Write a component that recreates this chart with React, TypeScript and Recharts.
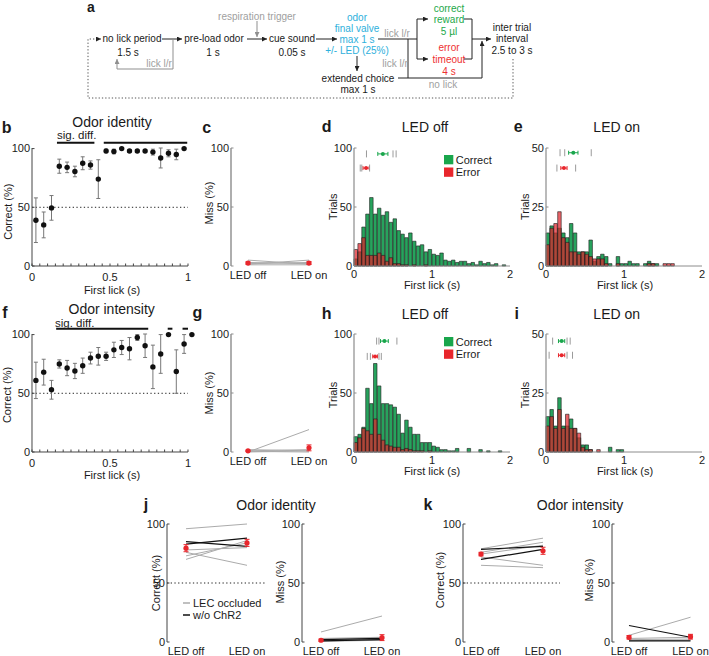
import React from 'react';
import { ComposedChart, Line, Bar, Scatter, XAxis, YAxis, ErrorBar, ReferenceLine } from 'recharts';

const FONT = '"Liberation Sans", Arial, Helvetica, sans-serif';
const TXT = '#1a1a1a';
const AX_DARK = '#444';
const AX_GRAY = '#8c8c8c';
const GREEN_BAR = '#27a35d';
const RED_BAR = '#e0262c';
const GREEN_KEY = '#19a64c';
const RED_KEY = '#e8262c';
const GRAY_LINE = '#ababab';
const CYAN = '#2eb0dc';
const GREEN_T = '#22a84a';
const RED_T = '#ee3030';
const GRAY_T = '#a0a0a0';

// ---------- b / f : correct vs first lick ----------
const lickBinsB = [0.025, 0.075, 0.125, 0.175, 0.225, 0.275, 0.325, 0.375, 0.425, 0.475, 0.525, 0.575, 0.625, 0.675, 0.725, 0.775, 0.825, 0.875, 0.925, 0.975];
const identityCorrect = [39, 35, 49.5, 85, 84, 80.5, 87.5, 86, 74, 98, 97.5, 100, 98, 98, 98, 97, 92, 96, 95, 100];
const identityErr = [19, 11, 10.5, 6, 4.5, 4.5, 5.5, 3.5, 16.5, 1.5, 2, 0, 1, 1, 1.2, 2.5, 8.5, 3, 4.5, 0];
const identitySig = [[0.16, 0.4], [0.46, 0.995]];

const lickBinsF = [0.025, 0.075, 0.125, 0.175, 0.225, 0.275, 0.325, 0.375, 0.425, 0.475, 0.525, 0.575, 0.625, 0.675, 0.725, 0.775, 0.825, 0.875, 0.925, 0.975, 1.025];
const intensityCorrect = [61, 68, 53, 75, 71.5, 69, 73.5, 80, 81.5, 81.5, 87, 89, 88, 97.5, 90.5, 72.5, 83.5, 100, 68.5, 92, 100];
const intensityErr = [15.5, 11, 8, 3.5, 6.5, 6.5, 6.5, 5, 7.5, 3.5, 6.5, 6, 9.5, 2.5, 10, 18.5, 16.5, 0, 18.5, 8, 0];
const intensitySig = [[0.155, 0.745], [0.87, 0.9], [0.965, 1.0]];
const SIG_LEVEL = 105;
const lickTicks = [0, 0.05, 0.1, 0.15, 0.2, 0.25, 0.3, 0.35, 0.4, 0.45, 0.5, 0.55, 0.6, 0.65, 0.7, 0.75, 0.8, 0.85, 0.9, 0.95, 1];
const lickMajor = [0, 0.5, 1];

// ---------- histograms ----------
const histBins = [0.025, 0.075, 0.125, 0.175, 0.225, 0.275, 0.325, 0.375, 0.425, 0.475, 0.525, 0.575, 0.625, 0.675, 0.725, 0.775, 0.825, 0.875, 0.925, 0.975, 1.025, 1.075, 1.125, 1.175, 1.225, 1.275, 1.325, 1.375, 1.425, 1.475, 1.525, 1.575, 1.625, 1.675, 1.725, 1.775, 1.825, 1.875, 1.925, 1.975];

const dCorrect = [6, 12, 33, 44, 58, 44, 49, 43, 46, 37, 40, 30, 27, 24, 28, 21, 17, 18, 12, 14, 10, 9, 11, 5, 4, 5, 3, 4, 4, 2, 3, 1, 4, 2, 3, 1, 2, 0, 1, 0];
const dError = [14, 19, 24, 9, 9, 9, 11, 9, 4, 7, 2, 2, 1, 1, 0, 1, 0, 0, 1, 0, 0, 0, 0, 0, 0, 0, 0, 0, 0, 0, 0, 0, 0, 0, 0, 0, 0, 0, 0, 0];
const dCorrectTicks = [0.16, 0.5, 0.54];
const dErrorTicks = [0.08, 0.1, 0.2];
const dMedians = [0.37, 0.155];
const dSpreads = [0.065, 0.04];
const dRows = [95, 83];

const eCorrect = [14, 17, 14, 16, 14, 12, 18, 14, 6, 6, 6, 11, 2, 4, 5, 4, 1, 0, 4, 1, 1, 2, 1, 1, 0, 1, 2, 1, 1, 0, 0, 0, 0, 0, 0, 0, 0, 0, 0, 0];
const eError = [9, 16, 18, 23, 12, 10, 6, 6, 5, 6, 5, 4, 3, 3, 3, 1, 0, 0, 1, 0, 0, 0, 0, 0, 0, 0, 1, 1, 0, 0, 1, 1, 1, 0, 0, 0, 0, 0, 0, 0];
const eCorrectTicks = [0.18, 0.24, 0.58];
const eErrorTicks = [0.14, 0.38];
const eMedians = [0.35, 0.23];
const eSpreads = [0.06, 0.04];
const eRows = [48, 41.5];

const hCorrect = [13, 15, 21, 54, 41, 75, 56, 41, 41, 40, 38, 32, 16, 27, 21, 15, 15, 8, 8, 8, 5, 4, 2, 2, 1, 1, 3, 0, 0, 3, 0, 0, 2, 0, 1, 0, 0, 1, 0, 0];
const hError = [8, 12, 20, 18, 15, 28, 15, 10, 6, 5, 4, 4, 2, 3, 2, 1, 1, 1, 0, 1, 0, 0, 0, 0, 0, 0, 0, 0, 0, 0, 0, 0, 0, 0, 0, 0, 0, 0, 0, 0];
const hCorrectTicks = [0.29, 0.32, 0.55];
const hErrorTicks = [0.17, 0.21, 0.32, 0.35];
const hMedians = [0.39, 0.27];
const hSpreads = [0.05, 0.03];
const hRows = [94, 81];

const iCorrect = [15, 18, 11, 23, 11, 11, 14, 10, 6, 3, 3, 1, 0, 0, 0, 0, 2, 0, 1, 1, 0, 0, 0, 0, 0, 0, 0, 0, 0, 0, 0, 0, 0, 0, 0, 0, 0, 0, 0, 0];
const iError = [11, 15, 10, 18, 10, 16, 10, 10, 8, 2, 1, 1, 0, 1, 0, 0, 0, 0, 0, 0, 0, 0, 0, 0, 0, 0, 0, 0, 0, 0, 0, 0, 0, 0, 0, 0, 0, 0, 0, 0];
const iCorrectTicks = [0.085, 0.27, 0.31];
const iErrorTicks = [0.04, 0.27, 0.34];
const iMedians = [0.2, 0.2];
const iSpreads = [0.04, 0.04];
const iRows = [47, 41];

// ---------- paired LED off / on ----------
const ledLabels = ['LED off', 'LED on'];
const cMissGray = [[5, 1.5], [1.5, 5], [2, 3], [3, 2], [1, 1]];
const cMissMean = [2.5, 2.5];
const cMissErr = [1, 1.2];
const gMissGray = [[0, 19], [1, 2], [0, 1], [2, 1], [0.5, 0]];
const gMissMean = [1, 3.5];
const gMissErr = [0.5, 2.5];
const jCorrectGray = [[96, 100], [70, 86], [76, 65], [73, 84], [78, 80]];
const jCorrectBlack = [[85, 81], [83, 88]];
const jCorrectMean = [79.5, 84];
const jCorrectErr = [3, 3];
const jMissGray = [[8.5, 22], [2, 3], [1, 2], [3, 4], [0.5, 1.5]];
const jMissBlack = [[1, 2], [2, 3]];
const jMissMean = [1.5, 3.7];
const jMissErr = [1, 2.5];
const kCorrectGray = [[79, 88], [76, 84.5], [74.5, 82], [72, 65], [65, 63]];
const kCorrectBlack = [[78.5, 81], [70, 78.5]];
const kCorrectMean = [74.5, 77.3];
const kCorrectErr = [1.5, 3];
const kMissGray = [[5.7, 21], [2, 2.5], [1, 1.5], [3, 4]];
const kMissBlack = [[14, 4], [1, 1]];
const kMissMean = [4, 4.5];
const kMissErr = [1.5, 2];

// ---------- layout helpers ----------
const ML = 40, MT = 28, MR = 14, MB = 26, XH = 20;
const UNIT = 156;
function frame(x0: number, y0: number, x1: number, y1: number) {
  return {
    left: x0 - ML, top: y0 - MT,
    width: x1 - x0 + ML + MR, height: y1 - y0 + MT + MB,
    margin: { top: MT, right: MR, bottom: MB - XH, left: 0 },
  };
}
const pos = (f: any): React.CSSProperties => ({ position: 'absolute', left: f.left, top: f.top });

const yTick = (m: number, color: string) => (p: any) => (
  <g>
    <line x1={p.x + m} x2={p.x + m + 2.5} y1={p.y} y2={p.y} stroke={color} strokeWidth={1} />
    <text x={p.x} y={p.y} dy="0.35em" textAnchor="end" fontSize={11} fill={TXT} fontFamily={FONT}>{p.payload.value}</text>
  </g>
);
const xMinorTick = (m: number) => (p: any) => {
  const v = p.payload.value;
  const major = lickMajor.indexOf(v) >= 0;
  return (
    <g>
      <line x1={p.x} x2={p.x} y1={p.y - m} y2={p.y - m - 2.5} stroke={AX_DARK} strokeWidth={1} />
      {major ? <text x={p.x} y={p.y} dy="0.71em" textAnchor="middle" fontSize={11} fill={TXT} fontFamily={FONT}>{String(v)}</text> : null}
    </g>
  );
};
const dotShape = (color: string, r: number) => (p: any) => <circle cx={p.cx} cy={p.cy} r={r} fill={color} />;
const vTick = (p: any) => <line x1={p.cx} x2={p.cx} y1={p.cy - 3.5} y2={p.cy + 3.5} stroke="#9a9a9a" strokeWidth={1} />;

function DotPanel({ x0, y0, y1, xMax, xs, means, errs, sig }: any) {
  const x1 = x0 + UNIT * xMax;
  const f = frame(x0, y0, x1, y1);
  const rows = xs.map((x: number, i: number) => ({ x, mean: means[i], err: errs[i] }));
  return (
    <div style={pos(f)}>
      <ComposedChart width={f.width} height={f.height} data={rows} margin={f.margin}>
        <XAxis dataKey="x" type="number" domain={[0, xMax]} ticks={lickTicks} interval={0} tickSize={0} tickMargin={7}
          axisLine={false} tickLine={false} tick={xMinorTick(7)} height={XH} />
        <YAxis type="number" domain={[0, 100]} ticks={[0, 50, 100]} width={ML} tickSize={0} tickMargin={2}
          axisLine={{ stroke: AX_DARK }} tickLine={false} tick={yTick(2, AX_DARK)} />
        <ReferenceLine segment={[{ x: 0, y: 0 }, { x: 1, y: 0 }]} stroke={AX_DARK} ifOverflow="visible" />
        <ReferenceLine segment={[{ x: 0, y: 50 }, { x: 1, y: 50 }]} stroke="#222" strokeDasharray="1.3 2.4" ifOverflow="visible" />
        {sig.map((s: number[], k: number) => (
          <ReferenceLine key={k} segment={[{ x: s[0], y: SIG_LEVEL }, { x: s[1], y: SIG_LEVEL }]} stroke="#111" strokeWidth={2} ifOverflow="visible" />
        ))}
        <Scatter dataKey="mean" shape={dotShape('#111', 2.7)} isAnimationActive={false}>
          <ErrorBar dataKey="err" direction="y" width={2} stroke="#777" strokeWidth={1} isAnimationActive={false} />
        </Scatter>
      </ComposedChart>
    </div>
  );
}

function PairPanel({ x0, x1, y0, y1, padL, padR, gray, black, mean, err, dotted, axisColor, axisWidth }: any) {
  const f = frame(x0, y0, x1, y1);
  const rows = [0, 1].map((i) => {
    const r: any = { x: i, mean: mean[i], err: err[i] };
    gray.forEach((g: number[], k: number) => { r['g' + k] = g[i]; });
    black.forEach((b: number[], k: number) => { r['b' + k] = b[i]; });
    return r;
  });
  return (
    <div style={pos(f)}>
      <ComposedChart width={f.width} height={f.height} data={rows} margin={f.margin}>
        <XAxis dataKey="x" type="number" domain={[0, 1]} ticks={[0, 1]} interval={0} padding={{ left: padL, right: padR }}
          tickFormatter={(v: number) => ledLabels[v]} axisLine={false} tickLine={false} tickSize={0} tickMargin={5}
          tick={{ fontSize: 11, fill: TXT, fontFamily: FONT }} height={XH} />
        <YAxis type="number" domain={[0, 100]} ticks={[0, 50, 100]} width={ML} tickSize={0} tickMargin={2}
          axisLine={{ stroke: axisColor, strokeWidth: axisWidth }} tickLine={false} tick={yTick(2, axisColor)} />
        {dotted ? <ReferenceLine y={50} stroke="#222" strokeDasharray="1.3 2.4" /> : null}
        {gray.map((_: any, k: number) => (
          <Line key={'g' + k} dataKey={'g' + k} stroke={GRAY_LINE} strokeWidth={1} dot={false} isAnimationActive={false} />
        ))}
        {black.map((_: any, k: number) => (
          <Line key={'b' + k} dataKey={'b' + k} stroke="#111" strokeWidth={1.2} dot={false} isAnimationActive={false} />
        ))}
        <Scatter dataKey="mean" shape={dotShape(RED_KEY, 2.6)} isAnimationActive={false}>
          <ErrorBar dataKey="err" direction="y" width={2.5} stroke={RED_KEY} strokeWidth={1} isAnimationActive={false} />
        </Scatter>
      </ComposedChart>
    </div>
  );
}

function Hist({ x0, y0, y1, yMax, yTicks, correct, error, cTicks, eTicks, medians, spreads, rowsY }: any) {
  const x1 = x0 + UNIT;
  const f = frame(x0, y0, x1, y1);
  const data = histBins.map((b, i) => ({ bin: b, correct: correct[i], error: error[i] }));
  const tickPts = [
    ...cTicks.map((x: number) => ({ x, y: rowsY[0] })),
    ...eTicks.map((x: number) => ({ x, y: rowsY[1] })),
  ];
  const cMed = [{ x: medians[0], y: rowsY[0], err: spreads[0] }];
  const eMed = [{ x: medians[1], y: rowsY[1], err: spreads[1] }];
  const bw = UNIT / 40;
  return (
    <div style={pos(f)}>
      <ComposedChart width={f.width} height={f.height} data={data} margin={f.margin}>
        <XAxis xAxisId="g" dataKey="bin" type="number" domain={[0, 2]} ticks={[0, 1, 2]} interval={0} tickSize={0} tickMargin={4}
          axisLine={{ stroke: AX_GRAY }} tickLine={false} tick={{ fontSize: 11, fill: TXT, fontFamily: FONT }} height={XH} />
        <XAxis xAxisId="r" dataKey="bin" type="number" domain={[0, 2]} hide />
        <XAxis xAxisId="m" dataKey="x" type="number" domain={[0, 2]} hide />
        <YAxis type="number" domain={[0, yMax]} ticks={yTicks} width={ML} tickSize={0} tickMargin={2}
          axisLine={{ stroke: AX_GRAY, strokeWidth: 1.2 }} tickLine={false} tick={yTick(2, AX_GRAY)} />
        <Bar xAxisId="g" dataKey="correct" fill={GREEN_BAR} stroke="#1b1b1b" strokeWidth={0.6} barSize={bw} isAnimationActive={false} />
        <Bar xAxisId="r" dataKey="error" fill={RED_BAR} fillOpacity={0.72} stroke="#1b1b1b" strokeWidth={0.6} barSize={bw} isAnimationActive={false} />
        <Scatter xAxisId="m" data={tickPts} dataKey="y" shape={vTick} isAnimationActive={false} />
        <Scatter xAxisId="m" data={cMed} dataKey="y" shape={dotShape(GREEN_KEY, 2)} isAnimationActive={false}>
          <ErrorBar dataKey="err" direction="x" width={2} stroke={GREEN_KEY} strokeWidth={1} isAnimationActive={false} />
        </Scatter>
        <Scatter xAxisId="m" data={eMed} dataKey="y" shape={dotShape(RED_KEY, 2)} isAnimationActive={false}>
          <ErrorBar dataKey="err" direction="x" width={2} stroke={RED_KEY} strokeWidth={1} isAnimationActive={false} />
        </Scatter>
      </ComposedChart>
    </div>
  );
}

// ---------- overlay text / diagram ----------
function T({ x, y, s, size = 11, color = TXT, anchor = 'middle', weight = 400, rot = false }: any) {
  return (
    <text x={x} y={y} dy={rot ? '0.35em' : undefined} textAnchor={anchor} fontSize={size} fill={color} fontWeight={weight}
      fontFamily={FONT} transform={rot ? `rotate(-90 ${x} ${y})` : undefined}>{s}</text>
  );
}
function D({ x, y, s, color = TXT }: any) {
  return <text x={x} y={y} dy="0.35em" textAnchor="middle" fontSize={10} fill={color} fontFamily={FONT}>{s}</text>;
}

function Overlay() {
  const blk = '#222';
  const gr = '#8f8f8f';
  return (
    <svg width={709} height={656} style={{ position: 'absolute', left: 0, top: 0, pointerEvents: 'none' }}>
      <defs>
        <marker id="ah" viewBox="0 0 6 6" refX="6" refY="3" markerWidth="5" markerHeight="5" orient="auto">
          <path d="M0,0 L6,3 L0,6 z" fill={blk} />
        </marker>
        <marker id="ahg" viewBox="0 0 6 6" refX="6" refY="3" markerWidth="5" markerHeight="5" orient="auto">
          <path d="M0,0 L6,3 L0,6 z" fill={gr} />
        </marker>
      </defs>
      {/* panel a */}
      <T x={91} y={12} s="a" size={14} weight={700} />
      <path d="M513,59 L513,98 L88,98 L88,39 L101,39" fill="none" stroke="#555" strokeDasharray="1.3 2" markerEnd="url(#ah)" />
      <D x={132} y={38} s="no lick period" />
      <D x={128} y={52} s="1.5 s" />
      <line x1={162} y1={39} x2={182} y2={39} stroke={blk} markerEnd="url(#ah)" />
      <path d="M173,39 L173,69 L117,69 L117,59" fill="none" stroke={gr} markerEnd="url(#ahg)" />
      <D x={159} y={63} s="lick l/r" color={GRAY_T} />
      <D x={214} y={38} s="pre-load odor" />
      <D x={213} y={52} s="1 s" />
      <line x1={247} y1={39} x2={267} y2={39} stroke={blk} markerEnd="url(#ah)" />
      <D x={257} y={16} s="respiration trigger" color={GRAY_T} />
      <line x1={257} y1={21} x2={257} y2={37} stroke={gr} markerEnd="url(#ahg)" />
      <D x={292} y={38} s="cue sound" />
      <D x={292} y={52} s="0.05 s" />
      <line x1={316} y1={39} x2={337} y2={39} stroke={blk} markerEnd="url(#ah)" />
      <D x={357} y={17} s="odor" color={CYAN} />
      <D x={357} y={28} s="final valve" color={CYAN} />
      <D x={357} y={39} s="max 1 s" color={CYAN} />
      <D x={357} y={50} s="+/- LED (25%)" color={CYAN} />
      <line x1={378} y1={39} x2={417} y2={39} stroke={blk} />
      <D x={397} y={33} s="lick l/r" color={GRAY_T} />
      <line x1={417} y1={19} x2={417} y2={59} stroke={blk} />
      <line x1={417} y1={19} x2={428} y2={19} stroke={blk} markerEnd="url(#ah)" />
      <line x1={417} y1={59} x2={428} y2={59} stroke={blk} markerEnd="url(#ah)" />
      <D x={449} y={8} s="correct" color={GREEN_T} />
      <D x={449} y={19} s="reward" color={GREEN_T} />
      <D x={449} y={31} s="5 µl" color={GREEN_T} />
      <D x={449} y={47} s="error" color={RED_T} />
      <D x={449} y={59} s="timeout" color={RED_T} />
      <D x={449} y={71} s="4 s" color={RED_T} />
      <path d="M464,19 L472,19 L472,59 L464,59" fill="none" stroke={blk} />
      <line x1={472} y1={39} x2={491} y2={39} stroke={blk} markerEnd="url(#ah)" />
      <line x1={357} y1={56} x2={357} y2={71} stroke={blk} markerEnd="url(#ah)" />
      <D x={358} y={78} s="extended choice" />
      <D x={358} y={89} s="max 1 s" />
      <path d="M398,78 L482,78 L482,41" fill="none" stroke={blk} markerEnd="url(#ah)" />
      <line x1={408} y1={78} x2={408} y2={39} stroke={blk} />
      <D x={395} y={63} s="lick l/r" color={GRAY_T} />
      <D x={443} y={84} s="no lick" color={GRAY_T} />
      <D x={512} y={27} s="inter trial" />
      <D x={512} y={38} s="interval" />
      <D x={512} y={50} s="2.5 to 3 s" />

      {/* panel letters */}
      <T x={6.7} y={133.3} s="b" size={16} weight={700} />
      <T x={206.7} y={133.3} s="c" size={16} weight={700} />
      <T x={326.7} y={132.3} s="d" size={16} weight={700} />
      <T x={518.3} y={132.3} s="e" size={16} weight={700} />
      <T x={5} y={318.3} s="f" size={16} weight={700} />
      <T x={197.5} y={318.3} s="g" size={16} weight={700} />
      <T x={326.7} y={319.3} s="h" size={16} weight={700} />
      <T x={516.7} y={319.3} s="i" size={16} weight={700} />
      <T x={146} y={510} s="j" size={16} weight={700} />
      <T x={428} y={510} s="k" size={16} weight={700} />

      {/* titles */}
      <T x={112} y={126.7} s="Odor identity" size={14} />
      <T x={425} y={131.5} s="LED off" size={14} />
      <T x={616.7} y={131.5} s="LED on" size={14} />
      <T x={111.7} y={314} s="Odor intensity" size={14} />
      <T x={425} y={318.5} s="LED off" size={14} />
      <T x={616.7} y={318.5} s="LED on" size={14} />
      <T x={276} y={510} s="Odor identity" size={14} />
      <T x={580} y={510} s="Odor intensity" size={14} />

      {/* sig. diff. */}
      <T x={76.7} y={139} s="sig. diff." size={11.5} />
      <T x={55} y={327} s="sig. diff." size={11.5} anchor="start" />

      {/* axis titles */}
      <T x={8.3} y={211.7} s="Correct (%)" rot />
      <T x={209} y={203} s="Miss (%)" rot />
      <T x={333.3} y={206.7} s="Trials" rot />
      <T x={525} y={206.7} s="Trials" rot />
      <T x={7} y={395} s="Correct (%)" rot />
      <T x={209} y={393} s="Miss (%)" rot />
      <T x={333.3} y={395} s="Trials" rot />
      <T x={525} y={395} s="Trials" rot />
      <T x={156} y={583} s="Correct (%)" rot />
      <T x={280} y={582} s="Miss (%)" rot />
      <T x={440} y={580} s="Correct (%)" rot />
      <T x={589} y={580} s="Miss (%)" rot />
      <T x={112} y={294} s="First lick (s)" />
      <T x={432} y={289} s="First lick (s)" />
      <T x={625} y={289} s="First lick (s)" />
      <T x={112} y={479} s="First lick (s)" />
      <T x={432} y={475} s="First lick (s)" />
      <T x={625} y={475} s="First lick (s)" />

      {/* legends d / h */}
      <rect x={444} y={155} width={9.3} height={9.3} fill={GREEN_KEY} />
      <rect x={444} y={167.5} width={9.3} height={9.3} fill={RED_KEY} />
      <T x={455.7} y={163.5} s="Correct" anchor="start" />
      <T x={455.7} y={176} s="Error" anchor="start" />
      <rect x={444} y={337} width={9.3} height={9.3} fill={GREEN_KEY} />
      <rect x={444} y={349.5} width={9.3} height={9.3} fill={RED_KEY} />
      <T x={455.7} y={345.5} s="Correct" anchor="start" />
      <T x={455.7} y={358} s="Error" anchor="start" />

      {/* legend j */}
      <line x1={183} y1={603} x2={190} y2={603} stroke={GRAY_LINE} strokeWidth={1.5} />
      <T x={193} y={607} s="LEC occluded" anchor="start" />
      <line x1={183} y1={615} x2={190} y2={615} stroke="#111" strokeWidth={1.5} />
      <T x={193} y={619} s="w/o ChR2" anchor="start" />
    </svg>
  );
}

export default function App() {
  const R1 = [148, 266];
  const R2 = [334, 452];
  const R3 = [524, 642];
  return (
    <div style={{ position: 'absolute', left: 0, top: 0, width: 709, height: 656, overflow: 'hidden', background: '#fff', fontFamily: FONT }}>
      <DotPanel x0={32} y0={R1[0]} y1={R1[1]} xMax={1} xs={lickBinsB} means={identityCorrect} errs={identityErr} sig={identitySig} />
      <DotPanel x0={32} y0={R2[0]} y1={R2[1]} xMax={1.05} xs={lickBinsF} means={intensityCorrect} errs={intensityErr} sig={intensitySig} />

      <PairPanel x0={231} x1={330} y0={R1[0]} y1={R1[1]} padL={17} padR={21} gray={cMissGray} black={[]} mean={cMissMean} err={cMissErr} dotted={false} axisColor={AX_GRAY} axisWidth={1.4} />
      <PairPanel x0={231} x1={330} y0={R2[0]} y1={R2[1]} padL={17} padR={21} gray={gMissGray} black={[]} mean={gMissMean} err={gMissErr} dotted={false} axisColor={AX_GRAY} axisWidth={1.4} />

      <Hist x0={354} y0={R1[0]} y1={R1[1]} yMax={100} yTicks={[0, 50, 100]} correct={dCorrect} error={dError} cTicks={dCorrectTicks} eTicks={dErrorTicks} medians={dMedians} spreads={dSpreads} rowsY={dRows} />
      <Hist x0={546} y0={R1[0]} y1={R1[1]} yMax={50} yTicks={[0, 25, 50]} correct={eCorrect} error={eError} cTicks={eCorrectTicks} eTicks={eErrorTicks} medians={eMedians} spreads={eSpreads} rowsY={eRows} />
      <Hist x0={354} y0={R2[0]} y1={R2[1]} yMax={100} yTicks={[0, 50, 100]} correct={hCorrect} error={hError} cTicks={hCorrectTicks} eTicks={hErrorTicks} medians={hMedians} spreads={hSpreads} rowsY={hRows} />
      <Hist x0={546} y0={R2[0]} y1={R2[1]} yMax={50} yTicks={[0, 25, 50]} correct={iCorrect} error={iError} cTicks={iCorrectTicks} eTicks={iErrorTicks} medians={iMedians} spreads={iSpreads} rowsY={iRows} />

      <PairPanel x0={167} x1={265} y0={R3[0]} y1={R3[1]} padL={19} padR={18} gray={jCorrectGray} black={jCorrectBlack} mean={jCorrectMean} err={jCorrectErr} dotted axisColor={AX_DARK} axisWidth={1} />
      <PairPanel x0={302} x1={400} y0={R3[0]} y1={R3[1]} padL={19} padR={18} gray={jMissGray} black={jMissBlack} mean={jMissMean} err={jMissErr} dotted={false} axisColor={AX_DARK} axisWidth={1} />
      <PairPanel x0={463} x1={560} y0={R3[0]} y1={R3[1]} padL={18} padR={17} gray={kCorrectGray} black={kCorrectBlack} mean={kCorrectMean} err={kCorrectErr} dotted axisColor={AX_DARK} axisWidth={1} />
      <PairPanel x0={612} x1={705} y0={R3[0]} y1={R3[1]} padL={17} padR={14.5} gray={kMissGray} black={kMissBlack} mean={kMissMean} err={kMissErr} dotted={false} axisColor={AX_DARK} axisWidth={1} />

      <Overlay />
    </div>
  );
}
